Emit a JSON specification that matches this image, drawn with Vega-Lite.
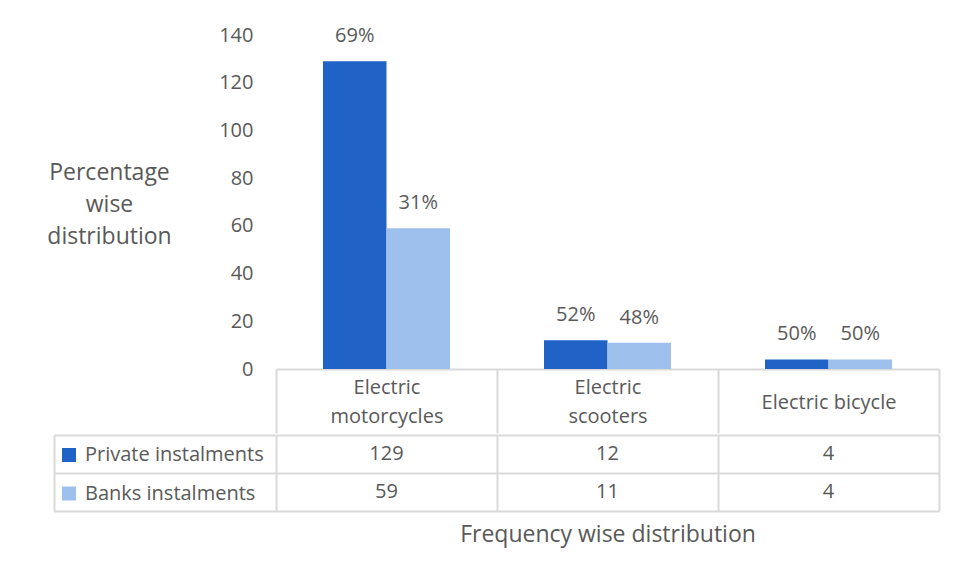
{
  "$schema": "https://vega.github.io/schema/vega-lite/v6.json",
  "padding": {"left": 46, "top": 25, "right": 10, "bottom": 10},
  "background": "white",
  "spacing": 0,
  "config": {
    "font": "Open Sans",
    "view": {"stroke": null},
    "axis": {"labelFont": "Open Sans", "titleFont": "Open Sans"},
    "legend": {"labelFont": "Open Sans"}
  },
  "datasets": {
    "rows": [
      {"vehicle": "Electric motorcycles", "source": "Private instalments", "count": 129, "share": "69%"},
      {"vehicle": "Electric motorcycles", "source": "Banks instalments", "count": 59, "share": "31%"},
      {"vehicle": "Electric scooters", "source": "Private instalments", "count": 12, "share": "52%"},
      {"vehicle": "Electric scooters", "source": "Banks instalments", "count": 11, "share": "48%"},
      {"vehicle": "Electric bicycle", "source": "Private instalments", "count": 4, "share": "50%"},
      {"vehicle": "Electric bicycle", "source": "Banks instalments", "count": 4, "share": "50%"}
    ]
  },
  "vconcat": [
    {
      "width": 663,
      "height": 334,
      "data": {"name": "rows"},
      "encoding": {
        "x": {
          "field": "vehicle",
          "type": "nominal",
          "sort": ["Electric motorcycles", "Electric scooters", "Electric bicycle"],
          "scale": {"paddingInner": 0, "paddingOuter": 0},
          "axis": {
            "title": null,
            "labelAngle": 0,
            "labelAlign": "center",
            "labelBaseline": "middle",
            "labelExpr": "datum.value ? (datum.value == 'Electric bicycle' ? datum.value : split(datum.value, ' ')) : ''",
            "labelFontSize": 20,
            "labelColor": "#595959",
            "labelLineHeight": 29.5,
            "labelPadding": {"condition": {"test": "datum.value == 'Electric bicycle'", "value": -31}, "value": -46},
            "domain": true,
            "domainColor": "#D9D9D9",
            "domainWidth": 2,
            "ticks": true,
            "tickBand": "extent",
            "tickSize": 64,
            "tickColor": "#D9D9D9",
            "tickWidth": 2
          }
        },
        "xOffset": {
          "field": "source",
          "type": "nominal",
          "sort": ["Private instalments", "Banks instalments"],
          "scale": {"paddingInner": 0, "paddingOuter": 0.74}
        },
        "y": {
          "field": "count",
          "type": "quantitative",
          "scale": {"domain": [0, 140]},
          "axis": {
            "values": [0, 20, 40, 60, 80, 100, 120, 140],
            "domain": false,
            "ticks": false,
            "grid": false,
            "labelFontSize": 20,
            "labelColor": "#595959",
            "labelPadding": 23,
            "title": ["Percentage", "wise", "distribution"],
            "titleAngle": 0,
            "titleAlign": "center",
            "titleBaseline": "middle",
            "titleX": -167,
            "titleY": 137,
            "titleFontSize": 23,
            "titleFontWeight": "normal",
            "titleColor": "#595959",
            "titleLineHeight": 32
          }
        }
      },
      "layer": [
        {
          "mark": {"type": "bar"},
          "encoding": {
            "color": {
              "field": "source",
              "type": "nominal",
              "sort": ["Private instalments", "Banks instalments"],
              "scale": {"range": ["#2062C6", "#9DC0EC"]},
              "legend": {
                "orient": "none",
                "legendX": -217,
                "legendY": 410,
                "title": null,
                "direction": "vertical",
                "symbolType": "square",
                "symbolSize": 196,
                "symbolStrokeWidth": 0,
                "symbolOpacity": 1,
                "labelFontSize": 20,
                "labelColor": "#595959",
                "labelOffset": 6,
                "labelLimit": 400,
                "rowPadding": 18.5
              }
            }
          }
        },
        {
          "mark": {"type": "text", "baseline": "middle", "dy": -25, "fontSize": 20, "color": "#595959"},
          "encoding": {"text": {"field": "share"}}
        }
      ]
    },
    {
      "width": 663,
      "height": 76,
      "data": {"name": "rows"},
      "mark": {"type": "text", "fontSize": 20, "color": "#595959", "baseline": "middle"},
      "encoding": {
        "x": {
          "field": "vehicle",
          "type": "nominal",
          "sort": ["Electric motorcycles", "Electric scooters", "Electric bicycle"],
          "scale": {"paddingInner": 0, "paddingOuter": 0},
          "axis": {
            "title": "Frequency wise distribution",
            "titleFontSize": 23,
            "titleFontWeight": "normal",
            "titleColor": "#595959",
            "titlePadding": 12,
            "labels": false,
            "ticks": false,
            "domain": false,
            "grid": true,
            "tickBand": "extent",
            "gridColor": "#D9D9D9",
            "gridWidth": 2
          }
        },
        "y": {
          "field": "source",
          "type": "nominal",
          "sort": ["Private instalments", "Banks instalments"],
          "scale": {"paddingInner": 0, "paddingOuter": 0},
          "axis": {
            "title": null,
            "labels": false,
            "grid": true,
            "tickBand": "extent",
            "gridColor": "#D9D9D9",
            "gridWidth": 2,
            "domain": true,
            "domainColor": "#D9D9D9",
            "domainWidth": 2,
            "offset": 222,
            "ticks": true,
            "tickSize": -222,
            "tickColor": "#D9D9D9",
            "tickWidth": 2
          }
        },
        "text": {"field": "count", "type": "quantitative"}
      }
    }
  ]
}
